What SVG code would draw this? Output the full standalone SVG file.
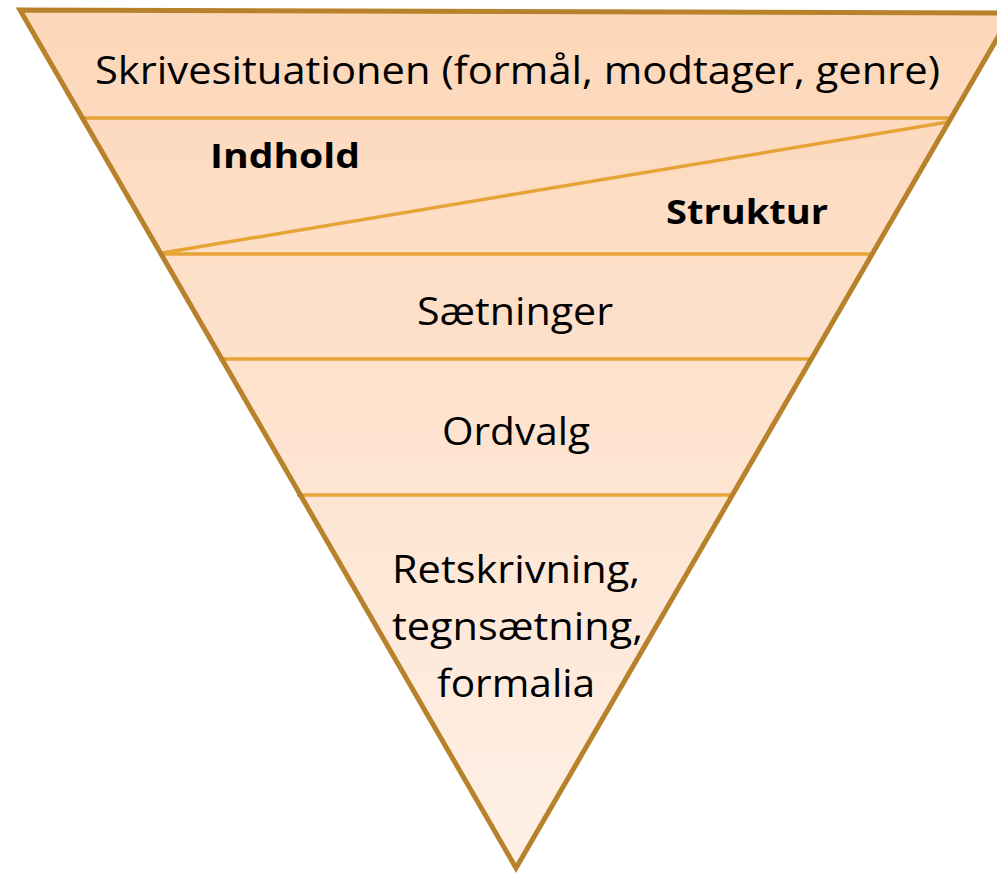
<svg xmlns="http://www.w3.org/2000/svg" width="997" height="873" viewBox="0 0 997 873">
<defs>
<linearGradient id="fillGrad" gradientUnits="userSpaceOnUse" x1="0" y1="10" x2="0" y2="868">
<stop offset="0" stop-color="#FDD7B9"/>
<stop offset="1" stop-color="#FEF0E6"/>
</linearGradient>
<style>
.t{font-family:"Open Sans","Liberation Sans",Arial,sans-serif;fill:#000;}
.n{font-size:38px;}
.b{font-size:34px;font-weight:bold;}
.sep{stroke:#E6A336;stroke-width:3.5;fill:none;}
.edge{stroke:#B7822B;stroke-width:5;fill:none;stroke-linejoin:miter;}
</style>
</defs>
<rect width="997" height="873" fill="#fff"/>
<polygon points="20,10 1012,13 516,868" fill="url(#fillGrad)"/>
<g id="connectors">
<line class="sep" x1="80" y1="118" x2="951" y2="118"/>
<line class="sep" x1="948" y1="122" x2="162" y2="253"/>
<line class="sep" x1="159" y1="254" x2="872" y2="254"/>
<line class="sep" x1="219" y1="359" x2="811" y2="359"/>
<line class="sep" x1="297" y1="495" x2="732" y2="495"/>
</g>
<polygon class="edge" points="20,10 1012,13 516,868"/>
<g id="skrivesituationen"><text class="t n" x="95" y="84" textLength="845" lengthAdjust="spacingAndGlyphs">Skrivesituationen (formål, modtager, genre)</text></g>
<g id="indhold"><text class="t b" x="210" y="168" textLength="150" lengthAdjust="spacingAndGlyphs">Indhold</text></g>
<g id="struktur"><text class="t b" x="666" y="224" textLength="162" lengthAdjust="spacingAndGlyphs">Struktur</text></g>
<g id="saetninger"><text class="t n" x="417" y="325" textLength="196" lengthAdjust="spacingAndGlyphs">Sætninger</text></g>
<g id="ordvalg"><text class="t n" x="442" y="445" textLength="148" lengthAdjust="spacingAndGlyphs">Ordvalg</text></g>
<g id="retskrivning">
<text class="t n" x="392" y="583" textLength="248" lengthAdjust="spacingAndGlyphs">Retskrivning,</text>
<text class="t n" x="392" y="640" textLength="251" lengthAdjust="spacingAndGlyphs">tegnsætning,</text>
<text class="t n" x="437" y="697" textLength="158" lengthAdjust="spacingAndGlyphs">formalia</text>
</g>
</svg>
